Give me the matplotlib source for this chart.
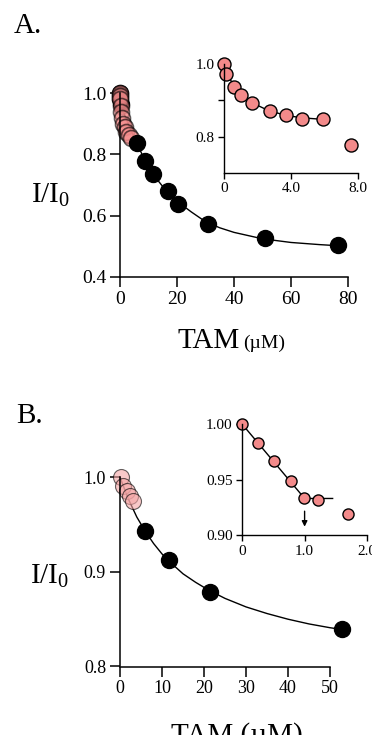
import numpy as np
import matplotlib
matplotlib.use("Agg")
import matplotlib.pyplot as plt

plt.rcParams['font.family'] = ['Liberation Serif', 'DejaVu Serif']
plt.rcParams['mathtext.fontset'] = 'custom'
plt.rcParams['mathtext.rm'] = 'Liberation Serif'

# panel A, main
a_tam = [5.9, 8.9, 11.5, 16.7, 20.5, 31, 51, 76.6]
a_ratio = [0.836, 0.780, 0.736, 0.681, 0.638, 0.572, 0.525, 0.503]
a_low_black_tam = [0, 0, 0.1, 0.3]
a_low_black_ratio = [1.0, 0.99, 0.98, 0.965]
a_low_tam = [0, 0, 0.1, 0.3, 0.5, 0.8, 1.2, 1.6, 2.2, 3.0, 3.8]
a_low_ratio = [1.0, 0.99, 0.98, 0.96, 0.94, 0.92, 0.90, 0.89, 0.875, 0.865, 0.855]
a_fit_x = [0, 2, 4, 6, 8, 10, 12, 15, 18, 21, 25, 30, 35, 40, 50, 60, 70, 77]
a_fit_y = [0.97, 0.92, 0.875, 0.835, 0.795, 0.760, 0.730, 0.695, 0.665, 0.640,
           0.612, 0.580, 0.560, 0.545, 0.524, 0.512, 0.505, 0.501]

# panel A, inset (low TAM)
ai_tam = [0, 0.12, 0.62, 1.0, 1.69, 2.73, 3.7, 4.63, 5.89, 7.6]
ai_ratio = [1.0, 0.973, 0.937, 0.916, 0.894, 0.870, 0.859, 0.850, 0.848, 0.778]
ai_fit_x = [0, 0.3, 0.62, 1.0, 1.7, 2.7, 3.7, 4.6, 6.1]
ai_fit_y = [1.0, 0.965, 0.937, 0.916, 0.893, 0.871, 0.859, 0.852, 0.847]

# panel B, main
b_tam = [5.95, 11.7, 21.4, 52.9]
b_ratio = [0.943, 0.913, 0.879, 0.840]
b_low_tam = [0.17, 0.8, 1.7, 2.4, 3.0]
b_low_ratio = [1.0, 0.991, 0.985, 0.980, 0.975]
b_fit_x = [0, 2, 4, 6, 8, 10, 12, 15, 18, 21, 25, 30, 35, 40, 45, 50, 53]
b_fit_y = [1.0, 0.977, 0.958, 0.943, 0.930, 0.919, 0.910, 0.898, 0.889, 0.881,
           0.872, 0.863, 0.856, 0.850, 0.845, 0.841, 0.839]

# panel B, inset (titration)
bi_tam = [0, 0.257, 0.51, 0.78, 0.99, 1.21, 1.70]
bi_ratio = [1.0, 0.983, 0.967, 0.949, 0.933, 0.932, 0.919]
bi_line_x = [0, 1.0, 1.45]
bi_line_y = [1.0, 0.933, 0.933]

pink = '#f38a8a'

fig = plt.figure(figsize=(3.72, 7.35), dpi=100)
W, H = 372.0, 735.0


def box(l, t, r, b):
    return [l / W, 1 - b / H, (r - l) / W, (b - t) / H]


def style(ax, size, tl, lw=1.1):
    for s in ['top', 'right']:
        ax.spines[s].set_visible(False)
    for s in ['left', 'bottom']:
        ax.spines[s].set_linewidth(lw)
    ax.tick_params(direction='out', length=tl, width=lw, labelsize=size, pad=3)
    ax.patch.set_alpha(0)


# ---- A main
ax = fig.add_axes(box(120, 93.3, 348, 276.7))
ax.plot(a_fit_x, a_fit_y, color='black', lw=1.0)
ax.plot(a_low_black_tam, a_low_black_ratio, 'o', ms=11.5, color='black', clip_on=False)
ax.plot(a_low_tam, a_low_ratio, 'o', ms=11.5, mfc=pink, mec='black', mew=1.2, alpha=0.6, clip_on=False)
ax.plot(a_tam, a_ratio, 'o', ms=11.5, color='black', clip_on=False)
ax.set_xlim(0, 80)
ax.set_ylim(0.4, 1.0)
ax.set_xticks([0, 20, 40, 60, 80])
ax.set_yticks([0.4, 0.6, 0.8, 1.0])
ax.set_yticklabels(['0.4', '0.6', '0.8', '1.0'])
style(ax, 14, 7)

# ---- A inset
ax = fig.add_axes(box(224, 64.3, 358, 172.7))
ax.plot(ai_fit_x, ai_fit_y, color='black', lw=1.0)
ax.plot(ai_tam, ai_ratio, 'o', ms=9.4, mfc=pink, mec='black', mew=1.0, clip_on=False)
ax.set_xlim(0, 8)
ax.set_ylim(0.7, 1.0)
ax.set_xticks([0, 4, 8])
ax.set_xticklabels(['0', '4.0', '8.0'])
ax.set_yticks([0.8, 0.9, 1.0])
ax.set_yticklabels(['0.8', '', '1.0'])
style(ax, 11, 4, lw=1.0)

# ---- B main
ax = fig.add_axes(box(120, 477.3, 330, 666.5))
ax.plot(b_fit_x, b_fit_y, color='black', lw=1.0, clip_on=False)
ax.plot(b_low_tam, b_low_ratio, 'o', ms=11.5, mfc='#f5a5a5', mec='black', mew=0.8, alpha=0.6, clip_on=False)
ax.plot(b_tam, b_ratio, 'o', ms=11.5, color='black', clip_on=False)
ax.set_xlim(0, 50)
ax.set_ylim(0.8, 1.0)
ax.set_xticks([0, 10, 20, 30, 40, 50])
ax.set_yticks([0.8, 0.9, 1.0])
ax.set_yticklabels(['0.8', '0.9', '1.0'])
style(ax, 13, 7)

# ---- B inset
ax = fig.add_axes(box(242.3, 424.3, 366.9, 535))
ax.plot(bi_line_x, bi_line_y, color='black', lw=1.0)
ax.plot(bi_tam, bi_ratio, 'o', ms=8, mfc=pink, mec='black', mew=1.0, clip_on=False)
ax.annotate('', xy=(1.0, 0.905), xytext=(1.0, 0.924),
            arrowprops=dict(arrowstyle='-|>', color='black', lw=1.0, mutation_scale=8))
ax.set_xlim(0, 2)
ax.set_ylim(0.9, 1.0)
ax.set_xticks([0, 1, 2])
ax.set_xticklabels(['0', '1.0', '2.0'])
ax.set_yticks([0.9, 0.95, 1.0])
ax.set_yticklabels(['0.90', '0.95', '1.00'])
style(ax, 11, 4, lw=1.0)

# ---- labels
fig.text(14 / W, 1 - 33 / H, 'A.', fontsize=21, va='baseline')
fig.text(16 / W, 1 - 423 / H, 'B.', fontsize=21, va='baseline')
fig.text(31 / W, 1 - 202 / H, r'I/I$_\mathregular{0}$', fontsize=21, va='baseline')
fig.text(30 / W, 1 - 583 / H, r'I/I$_\mathregular{0}$', fontsize=21, va='baseline')
fig.text(240 / W, 1 - 348 / H, 'TAM', fontsize=21, va='baseline', ha='right')
fig.text(243 / W, 1 - 348 / H, '(\u00b5M)', fontsize=14, va='baseline', ha='left')
fig.text(236.7 / W, 1 - 743 / H, 'TAM (\u00b5M)', fontsize=21, va='baseline', ha='center')

fig.savefig('out.png', dpi=100)
